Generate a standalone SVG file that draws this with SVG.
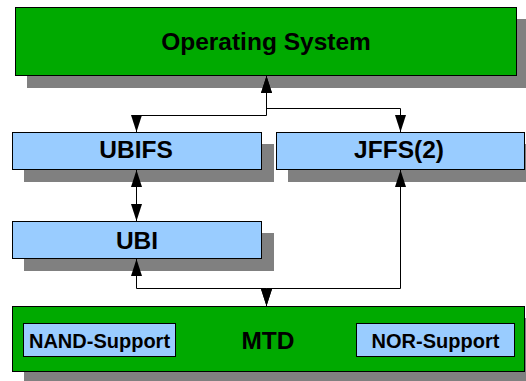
<svg xmlns="http://www.w3.org/2000/svg" width="526" height="381" viewBox="0 0 526 381">
  <style>
    .shadow { fill: #808080; }
    .layer { fill: #00aa00; stroke: #000; stroke-width: 1; }
    .fs { fill: #99ccff; stroke: #000; stroke-width: 1; }
    .label { font-family: "Liberation Sans", Arial, sans-serif; font-weight: bold; fill: #000; text-anchor: middle; }
    .big { font-size: 24.5px; }
    .small { font-size: 20px; }
    .link { fill: none; stroke: #000; stroke-width: 1; marker-start: url(#arrow); marker-end: url(#arrow); }
  </style>
  <defs>
    <marker id="arrow" viewBox="0 0 17 11" refX="17" refY="5.5" markerWidth="17" markerHeight="11" markerUnits="userSpaceOnUse" orient="auto-start-reverse">
      <path d="M0,0 L17,5.5 L0,11 Z" fill="#000"/>
    </marker>
  </defs>
  <rect width="526" height="381" fill="#fff"/>

  <g id="os">
    <rect class="shadow" x="27" y="19" width="501" height="69"/>
    <rect class="layer" x="15.5" y="7.5" width="501" height="68"/>
    <text class="label big" x="266" y="50">Operating System</text>
  </g>

  <g id="ubifs">
    <rect class="shadow" x="24" y="144" width="250" height="38"/>
    <rect class="fs" x="12.5" y="132.5" width="249" height="37"/>
    <text class="label big" x="136" y="158">UBIFS</text>
  </g>

  <g id="jffs">
    <rect class="shadow" x="288" y="144" width="250" height="38"/>
    <rect class="fs" x="276.5" y="132.5" width="248" height="37"/>
    <text class="label big" x="399" y="158">JFFS(2)</text>
  </g>

  <g id="ubi">
    <rect class="shadow" x="24" y="233" width="250" height="38"/>
    <rect class="fs" x="12.5" y="221.5" width="249" height="37"/>
    <text class="label big" x="137" y="249">UBI</text>
  </g>

  <g id="mtd">
    <rect class="shadow" x="24" y="318" width="510" height="66"/>
    <rect class="layer" x="12.5" y="306.5" width="512" height="65"/>
    <text class="label big" x="268" y="349">MTD</text>
    <g id="nand">
      <rect class="fs" x="23.5" y="323.5" width="152" height="33"/>
      <text class="label small" x="99.5" y="347.5">NAND-Support</text>
    </g>
    <g id="nor">
      <rect class="fs" x="356.5" y="323.5" width="158" height="33"/>
      <text class="label small" x="435.5" y="347.5">NOR-Support</text>
    </g>
  </g>

  <g id="connectors">
    <path class="link" d="M136.5,132 V115.5 H266.5 V76"/>
    <path class="link" d="M266.5,76 V108.5 H400.5 V132"/>
    <path class="link" d="M136.5,170 V221"/>
    <path class="link" d="M136.5,259 V288.5 H266.5 V306"/>
    <path class="link" d="M400.5,170 V288.5 H266.5 V306"/>
  </g>
</svg>
